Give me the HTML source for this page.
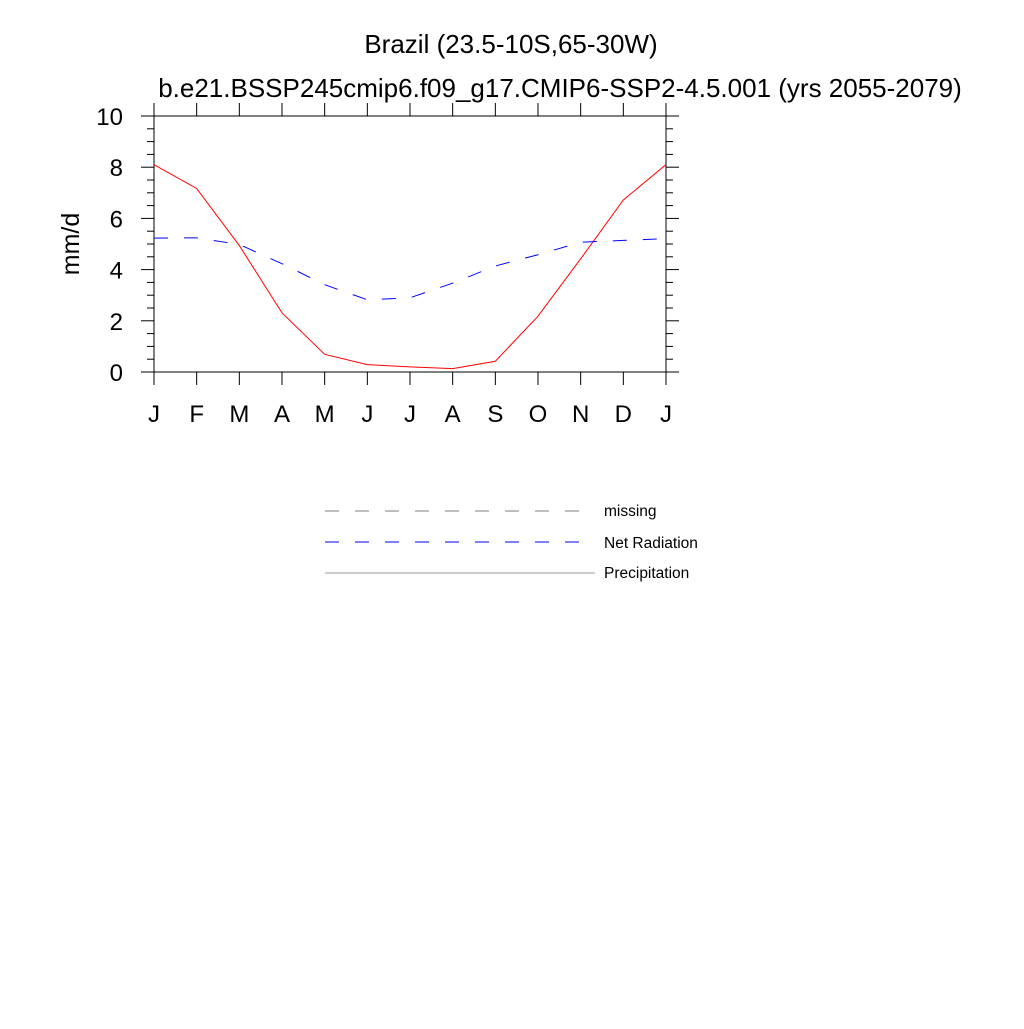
<!DOCTYPE html>
<html><head><meta charset="utf-8"><style>
body{margin:0;background:#fff;}
svg text{font-family:"Liberation Sans",sans-serif;}
</style></head><body>
<svg id="c" width="1024" height="1024" xmlns="http://www.w3.org/2000/svg">
<text x="511" y="53" font-size="26" text-anchor="middle">Brazil (23.5-10S,65-30W)</text>
<text x="560" y="97" font-size="26" text-anchor="middle">b.e21.BSSP245cmip6.f09_g17.CMIP6-SSP2-4.5.001 (yrs 2055-2079)</text>
<text transform="translate(79,244) rotate(-90)" font-size="25" text-anchor="middle">mm/d</text>
<g id="axes"></g>
<g id="series"></g>
<g>
<line x1="325" y1="511" x2="585" y2="511" stroke="#999" stroke-width="1.2" stroke-dasharray="14,16"/>
<text x="604" y="516" font-size="15.5">missing</text>
<line x1="325" y1="542" x2="585" y2="542" stroke="#00f" stroke-width="1" stroke-dasharray="14,16"/>
<text x="604" y="548" font-size="15.5">Net Radiation</text>
<line x1="325" y1="573" x2="595" y2="573" stroke="#999" stroke-width="1"/>
<text x="604" y="578" font-size="15.5">Precipitation</text>
</g>
</svg>
<script>
const months=["J","F","M","A","M","J","J","A","S","O","N","D","J"];
const yTicks=[0,2,4,6,8,10];
const precip=[8.1,7.17,4.94,2.31,0.69,0.29,0.2,0.13,0.42,2.18,4.42,6.72,8.1];
const netRad=[5.23,5.24,4.98,4.23,3.41,2.82,2.9,3.47,4.14,4.58,5.07,5.14,5.21];
const L=154,R=666,T=116,B=372;
const xs=i=>L+i*(R-L)/(months.length-1);
const ys=v=>B-(v-0)/(10-0)*(B-T);
const NS="http://www.w3.org/2000/svg";
const ax=document.getElementById('axes'),se=document.getElementById('series');
function mk(t,a,p){const e=document.createElementNS(NS,t);for(const k in a)e.setAttribute(k,a[k]);p.appendChild(e);return e;}
const fr=mk('rect',{x:L,y:T,width:R-L,height:B-T,fill:'none',stroke:'#000','stroke-width':1},ax);


months.forEach((m,i)=>{const x=xs(i);
mk('line',{x1:x,y1:B,x2:x,y2:B+13,stroke:'#000'},ax);
mk('line',{x1:x,y1:T,x2:x,y2:T-13,stroke:'#000'},ax);
const t=mk('text',{x:x,y:B+50,'font-size':24,'text-anchor':'middle'},ax);t.textContent=m;

});
for(let v=0;v<=10.001;v+=0.5){const y=ys(v);const maj=Math.abs(v%2)<1e-6;const len=maj?13:7;
mk('line',{x1:L,y1:y,x2:L-len,y2:y,stroke:'#000'},ax);
mk('line',{x1:R,y1:y,x2:R+len,y2:y,stroke:'#000'},ax);}
yTicks.forEach(v=>{const t=mk('text',{x:L-31,y:ys(v)+9,'font-size':24,'text-anchor':'end'},ax);t.textContent=v;

});
const pts=a=>a.map((v,i)=>xs(i)+','+ys(v)).join(' ');
const p1=mk('polyline',{points:pts(precip),fill:'none',stroke:'#f00','stroke-width':1},se);


const p2=mk('polyline',{points:pts(netRad),fill:'none',stroke:'#00f','stroke-width':1,'stroke-dasharray':'14,16'},se);


</script>
</body></html>
